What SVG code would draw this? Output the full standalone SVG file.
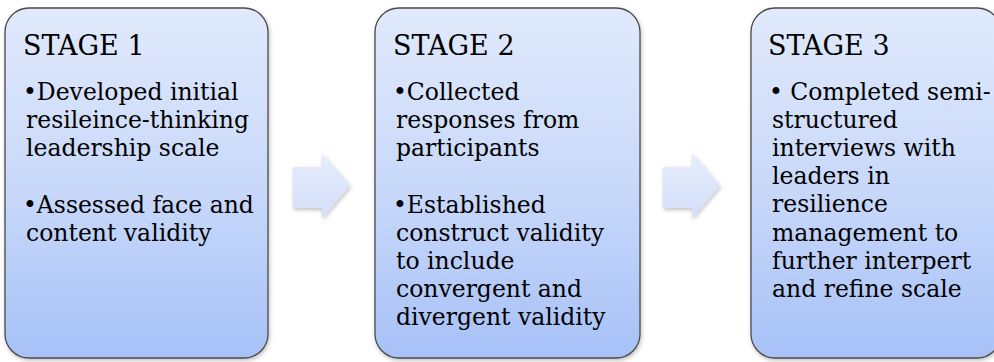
<svg xmlns="http://www.w3.org/2000/svg" width="994" height="362" viewBox="0 0 994 362">
  <defs>
    <linearGradient id="boxFill" x1="0" y1="0" x2="0" y2="1">
      <stop offset="0" stop-color="#e1eafc"/>
      <stop offset="0.5" stop-color="#c9d9fa"/>
      <stop offset="1" stop-color="#a7c1f7"/>
    </linearGradient>
    <linearGradient id="arrowFill" x1="0" y1="0" x2="0" y2="1">
      <stop offset="0" stop-color="#e6edfc"/>
      <stop offset="1" stop-color="#d3def8"/>
    </linearGradient>
    <filter id="shadow" x="-10%" y="-10%" width="130%" height="130%">
      <feGaussianBlur in="SourceAlpha" stdDeviation="2"/>
      <feOffset dx="1" dy="2" result="b"/>
      <feComponentTransfer><feFuncA type="linear" slope="0.25"/></feComponentTransfer>
      <feMerge><feMergeNode/><feMergeNode in="SourceGraphic"/></feMerge>
    </filter>
  </defs>
  <style>
    .box { fill: url(#boxFill); stroke: #4a4a4a; stroke-width: 1.3; }
    .arrow { fill: url(#arrowFill); stroke: none; }
    .title { font-family: "DejaVu Serif", "Liberation Serif", serif; font-size: 27px; fill: #000; }
    .body { font-family: "DejaVu Serif", "Liberation Serif", serif; font-size: 23.5px; fill: #000; }
  </style>
  <rect width="994" height="362" fill="#ffffff"/>

  <g id="connectors">
    <path class="arrow" filter="url(#shadow)" d="M293,167 H322 V153 L350,185.5 L322,218 V208 H293 Z"/>
    <path class="arrow" filter="url(#shadow)" d="M663,167 H692 V153 L720,185.5 L692,218 V208 H663 Z"/>
  </g>

  <g id="stage1">
    <rect class="box" filter="url(#shadow)" x="5" y="8" width="263" height="350" rx="24" ry="24"/>
    <text class="title" x="23" y="55">STAGE 1</text>
    <text class="body" x="23" y="100">•Developed initial</text>
    <text class="body" x="26" y="128">resileince-thinking</text>
    <text class="body" x="26" y="156">leadership scale</text>
    <text class="body" x="23" y="213">•Assessed face and</text>
    <text class="body" x="26" y="241">content validity</text>
  </g>

  <g id="stage2">
    <rect class="box" filter="url(#shadow)" x="375" y="8" width="265" height="350" rx="24" ry="24"/>
    <text class="title" x="393" y="55">STAGE 2</text>
    <text class="body" x="393" y="100">•Collected</text>
    <text class="body" x="396" y="128">responses from</text>
    <text class="body" x="396" y="156">participants</text>
    <text class="body" x="393" y="213">•Established</text>
    <text class="body" x="396" y="241">construct validity</text>
    <text class="body" x="396" y="269">to include</text>
    <text class="body" x="396" y="297">convergent and</text>
    <text class="body" x="396" y="325">divergent validity</text>
  </g>

  <g id="stage3">
    <rect class="box" filter="url(#shadow)" x="751" y="8" width="250" height="350" rx="24" ry="24"/>
    <text class="title" x="768" y="55">STAGE 3</text>
    <text class="body" x="769" y="100">• Completed semi-</text>
    <text class="body" x="772" y="128">structured</text>
    <text class="body" x="772" y="156">interviews with</text>
    <text class="body" x="772" y="184">leaders in</text>
    <text class="body" x="772" y="212">resilience</text>
    <text class="body" x="772" y="241">management to</text>
    <text class="body" x="772" y="269">further interpert</text>
    <text class="body" x="772" y="297">and refine scale</text>
  </g>
</svg>
